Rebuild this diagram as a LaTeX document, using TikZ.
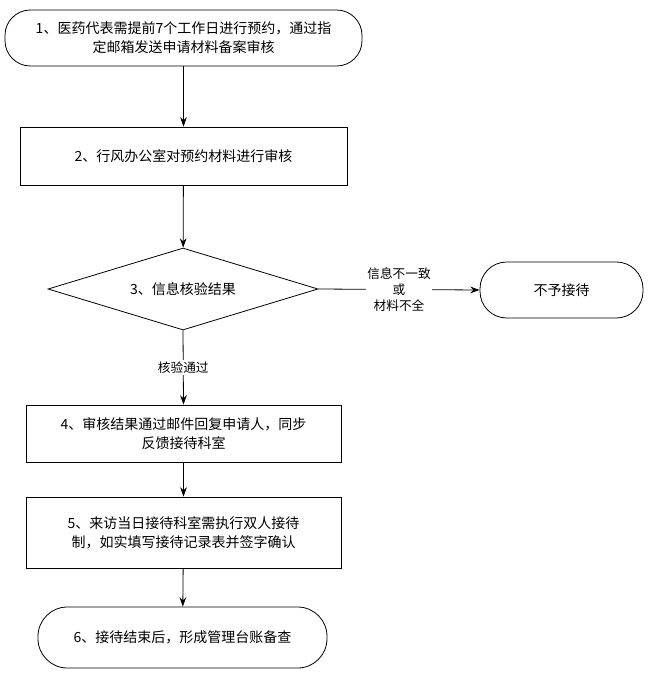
\documentclass[tikz,border=0pt]{standalone}
\usepackage{fontspec}
\setmainfont{Noto Sans CJK SC}
\usetikzlibrary{shapes.geometric,arrows.meta}
\begin{document}
\begin{tikzpicture}[x=0.75pt,y=-0.75pt,
  box/.style={draw,line width=0.6pt,align=center,font=\fontsize{10.5pt}{14pt}\selectfont,inner sep=0pt},
  arr/.style={draw,line width=0.6pt,-{Stealth[length=7pt,width=5pt]}},
  lab/.style={font=\fontsize{9.5pt}{12pt}\selectfont,fill=white,align=center,inner sep=1pt}]
\useasboundingbox (0,0) rectangle (660,674);
\node[box,rounded corners=19pt,minimum width=357*0.75pt,minimum height=56*0.75pt] (n1) at (183.5,38) {1、医药代表需提前7个工作日进行预约，通过指\\定邮箱发送申请材料备案审核};
\node[box,minimum width=327*0.75pt,minimum height=58*0.75pt] (n2) at (183.5,156) {2、行风办公室对预约材料进行审核};
\node[box,diamond,aspect=3.3,minimum width=270*0.75pt,minimum height=82*0.75pt] (n3) at (183,289) {3、信息核验结果};
\node[box,rounded corners=20pt,minimum width=163*0.75pt,minimum height=56*0.75pt] (n7) at (561.5,290) {不予接待};
\node[box,minimum width=315*0.75pt,minimum height=57*0.75pt] (n4) at (183.5,433.5) {4、审核结果通过邮件回复申请人，同步\\反馈接待科室};
\node[box,minimum width=315*0.75pt,minimum height=71*0.75pt] (n5) at (183.5,532.5) {5、来访当日接待科室需执行双人接待\\制，如实填写接待记录表并签字确认};
\node[box,rounded corners=22pt,minimum width=289*0.75pt,minimum height=61*0.75pt] (n6) at (182.5,637.5) {6、接待结束后，形成管理台账备查};
\draw[arr] (n1) -- (n2);
\draw[arr] (n2) -- (n3);
\draw[arr] (n3.east) -- node[lab]{信息不一致\\或\\材料不全} (n7.west);
\draw[arr] (n3.south) -- node[lab]{核验通过} (n4.north);
\draw[arr] (n4) -- (n5);
\draw[arr] (n5) -- (n6);
\end{tikzpicture}
\end{document}
